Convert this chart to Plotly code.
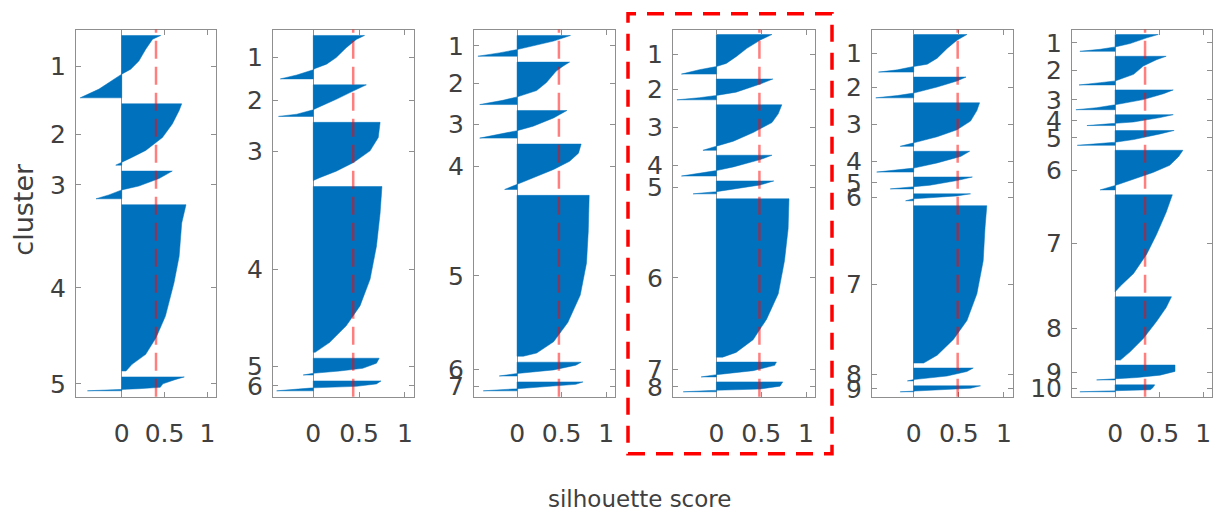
import plotly.graph_objects as go

W, H = 1218, 512
BLUE = '#0072BD'
FONT = 'DejaVu Sans'
TXT = '#404040'
AXC = '#8f8f8f'

# ---------------- data ----------------
# cluster sizes (samples per cluster), gap between clusters, mean silhouette
P1_SIZES = [63, 62, 28, 168, 14]
P2_SIZES = [44, 32, 59, 168, 17, 10]
P3_SIZES = [21, 43, 28, 46, 163, 14, 9]
P4_SIZES = [40, 21, 46, 21, 13, 160, 15, 10]
P5_SIZES = [38, 21, 44, 21, 12, 7, 159, 13, 6]
P6_SIZES = [17, 29, 20, 11, 15, 40, 98, 64, 15, 7]
GAPS = [6, 6, 6, 5, 5, 5]
MEANS = [0.40, 0.436, 0.47, 0.48, 0.487, 0.34]

# sorted silhouette profile of each cluster: (fraction through cluster, silhouette)
P1_PROFILES = [
    [(0, .455), (.06, .36), (.22, .28), (.41, .20), (.54, .105), (.62, 0), (.75, -.148), (.86, -.265), (1, -.485)],
    [(0, .70), (.11, .67), (.33, .59), (.55, .475), (.76, .28), (.87, .124), (.95, 0), (1, -.07)],
    [(0, .59), (.27, .435), (.54, .20), (.68, 0), (.86, -.15), (1, -.30)],
    [(0, .75), (.11, .70), (.31, .67), (.47, .61), (.67, .51), (.80, .40), (.90, .28), (.96, .12), (1, .05)],
    [(0, .73), (.2, .62), (.5, .48), (.75, .45), (.85, .2), (1, -.40)],
]
P2_PROFILES = [
    [(0, .56), (.09, .47), (.28, .36), (.51, .25), (.66, .145), (.76, .02), (.79, 0), (.91, -.18), (1, -.36)],
    [(0, .58), (.19, .44), (.46, .25), (.73, .04), (.79, 0), (.93, -.18), (1, -.38)],
    [(0, .73), (.26, .71), (.49, .62), (.69, .44), (.84, .25), (.95, .07), (1, .01)],
    [(0, .75), (.16, .73), (.36, .69), (.56, .62), (.72, .51), (.84, .36), (.94, .18), (1, .02)],
    [(0, .72), (.3, .69), (.6, .54), (.76, .29), (.9, 0), (1, -.11)],
    [(0, .74), (.3, .69), (.55, .47), (.7, 0), (1, -.40)],
]
P3_PROFILES = [
    [(0, .60), (.27, .41), (.56, .14), (.68, 0), (.84, -.2), (1, -.44)],
    [(0, .59), (.09, .52), (.21, .44), (.48, .33), (.67, .22), (.80, .03), (.82, 0), (.90, -.16), (1, -.42)],
    [(0, .56), (.27, .41), (.57, .18), (.73, 0), (.85, -.2), (1, -.42)],
    [(0, .72), (.2, .69), (.38, .59), (.56, .41), (.74, .18), (.88, 0), (1, -.14)],
    [(0, .81), (.22, .80), (.42, .78), (.62, .71), (.79, .57), (.91, .41), (.98, .22), (1, .07)],
    [(0, .72), (.22, .66), (.56, .41), (.82, 0), (1, -.2)],
    [(0, .74), (.27, .66), (.6, .25), (.77, 0), (1, -.38)],
]
P4_PROFILES = [
    [(0, .62), (.14, .49), (.35, .34), (.56, .22), (.73, .11), (.81, 0), (.89, -.19), (1, -.39)],
    [(0, .63), (.24, .49), (.63, .22), (.79, 0), (.9, -.19), (1, -.44)],
    [(0, .73), (.2, .69), (.39, .62), (.61, .41), (.80, .19), (.91, 0), (1, -.15)],
    [(0, .62), (.21, .49), (.56, .19), (.74, 0), (.86, -.19), (1, -.39)],
    [(0, .64), (.31, .49), (.66, .19), (.83, 0), (1, -.26)],
    [(0, .81), (.19, .80), (.39, .76), (.6, .69), (.76, .56), (.89, .41), (.97, .22), (1, .07)],
    [(0, .67), (.22, .65), (.58, .41), (.85, 0), (1, -.17)],
    [(0, .74), (.43, .71), (.72, .49), (.85, 0), (1, -.37)],
]
P5_PROFILES = [
    [(0, .59), (.15, .48), (.37, .37), (.63, .26), (.79, .15), (.85, 0), (.94, -.18), (1, -.39)],
    [(0, .58), (.19, .48), (.48, .26), (.77, 0), (.89, -.18), (1, -.42)],
    [(0, .73), (.18, .70), (.42, .63), (.62, .48), (.78, .26), (.92, 0), (1, -.15)],
    [(0, .62), (.25, .52), (.56, .26), (.81, 0), (.9, -.18), (1, -.41)],
    [(0, .65), (.3, .48), (.69, .18), (.82, 0), (1, -.26)],
    [(0, .63), (.3, .48), (.63, .18), (.72, 0), (1, -.09)],
    [(0, .81), (.14, .79), (.35, .77), (.56, .70), (.73, .59), (.85, .44), (.95, .26), (1, .11)],
    [(0, .66), (.27, .59), (.62, .37), (.9, 0), (1, -.07)],
    [(0, .74), (.4, .63), (.7, .30), (.85, 0), (1, -.15)],
]
P6_PROFILES = [
    [(0, .49), (.2, .36), (.54, .17), (.74, 0), (.88, -.17), (1, -.40)],
    [(0, .58), (.12, .47), (.34, .32), (.63, .21), (.81, .06), (.86, 0), (.92, -.17), (1, -.41)],
    [(0, .66), (.19, .55), (.49, .32), (.75, 0), (.9, -.21), (1, -.445)],
    [(0, .66), (.27, .51), (.67, .21), (.8, 0), (1, -.32)],
    [(0, .67), (.23, .51), (.61, .21), (.79, 0), (1, -.43)],
    [(0, .77), (.16, .72), (.38, .62), (.56, .43), (.73, .21), (.89, 0), (1, -.17)],
    [(0, .65), (.18, .58), (.41, .47), (.61, .36), (.81, .21), (.94, .06), (1, 0)],
    [(0, .64), (.17, .58), (.39, .47), (.66, .32), (.87, .17), (1, .06)],
    [(0, .68), (.43, .68), (.68, .51), (.84, .25), (.92, 0), (1, -.21)],
    [(0, .45), (.4, .43), (.7, .40), (.85, 0), (1, -.40)],
]

SIZES = [P1_SIZES, P2_SIZES, P3_SIZES, P4_SIZES, P5_SIZES, P6_SIZES]
PROFILES = [P1_PROFILES, P2_PROFILES, P3_PROFILES, P4_PROFILES, P5_PROFILES, P6_PROFILES]

# ---------------- layout geometry (pixels) ----------------
X_DOM_PX = [(76, 216), (273, 414), (474, 615), (673, 815), (872, 1013), (1072, 1212)]
Y_TOP_PX, Y_BOT_PX = 29, 402

fig = go.Figure()
layout = dict(
    width=W, height=H, margin=dict(l=0, r=0, t=0, b=0),
    paper_bgcolor='white', plot_bgcolor='white', showlegend=False,
    font=dict(family=FONT, color=TXT, size=25),
)
shapes = []

for i in range(6):
    sizes, profs, gap = SIZES[i], PROFILES[i], GAPS[i]
    total = sum(sizes) + gap * (len(sizes) + 1)
    xa = 'x' if i == 0 else f'x{i+1}'
    ya = 'y' if i == 0 else f'y{i+1}'
    centers = []
    top = gap
    minval = 0
    for k, (size, prof) in enumerate(zip(sizes, profs)):
        xs = [0] + [v for f, v in prof] + [0, 0]
        ys = [top] + [top + f * size for f, v in prof] + [top + size, top]
        minval = min(minval, min(v for f, v in prof))
        fig.add_trace(go.Scatter(
            x=xs, y=ys, mode='lines', fill='toself', fillcolor=BLUE,
            line=dict(color=BLUE, width=0.5), hoverinfo='skip',
            xaxis=xa, yaxis=ya))
        centers.append(top + size / 2)
        top += size + gap
    xlo = 1.1 * minval
    x0, x1 = X_DOM_PX[i]
    axn = '' if i == 0 else str(i + 1)
    layout['xaxis' + axn] = dict(
        domain=[x0 / W, x1 / W], anchor=ya, range=[xlo, 1.1],
        tickvals=[0, 0.5, 1], ticktext=['0', '0.5', '1'],
        ticks='inside', ticklen=5, tickcolor=AXC, tickwidth=1,
        showline=True, linecolor=AXC, linewidth=1, mirror='ticks',
        showgrid=False, zeroline=True, zerolinecolor=AXC, zerolinewidth=1,
        tickfont=dict(family=FONT, size=25, color=TXT), ticklabelstandoff=14,
        fixedrange=True)
    layout['yaxis' + axn] = dict(
        domain=[1 - Y_BOT_PX / H, 1 - Y_TOP_PX / H], anchor=xa,
        range=[total, 0],
        tickvals=centers, ticktext=[str(k + 1) for k in range(len(sizes))],
        ticks='inside', ticklen=5, tickcolor=AXC, tickwidth=1,
        showline=True, linecolor=AXC, linewidth=1, mirror='ticks',
        showgrid=False, zeroline=False,
        tickfont=dict(family=FONT, size=25, color=TXT), ticklabelstandoff=4,
        fixedrange=True)
    shapes.append(dict(type='line', xref=xa, yref=f'{ya} domain',
                       x0=MEANS[i], x1=MEANS[i], y0=0, y1=1,
                       line=dict(color='rgba(255,0,0,0.5)', width=2.5, dash='18px,8px'),
                       layer='above'))

# highlight box around the 4th panel
shapes.append(dict(type='rect', xref='paper', yref='paper',
                   x0=628 / W, x1=832 / W, y0=1 - 460 / H, y1=1 - 13 / H,
                   line=dict(color='#ff0000', width=3.5, dash='17px,11px'),
                   fillcolor='rgba(0,0,0,0)'))

layout['shapes'] = shapes
layout['annotations'] = [
    dict(text='cluster', xref='paper', yref='paper', x=24 / W, y=1 - 212 / H,
         textangle=-90, showarrow=False, xanchor='center', yanchor='middle',
         font=dict(family=FONT, size=27, color=TXT)),
    dict(text='silhouette score', xref='paper', yref='paper', x=639 / W, y=1 - 506 / H,
         showarrow=False, xanchor='center', yanchor='middle',
         font=dict(family=FONT, size=23, color=TXT)),
]
fig.update_layout(**layout)
fig.write_html('out.html', config={'displayModeBar': False},
               post_script="document.body.style.margin='0';document.body.style.overflow='hidden';")
